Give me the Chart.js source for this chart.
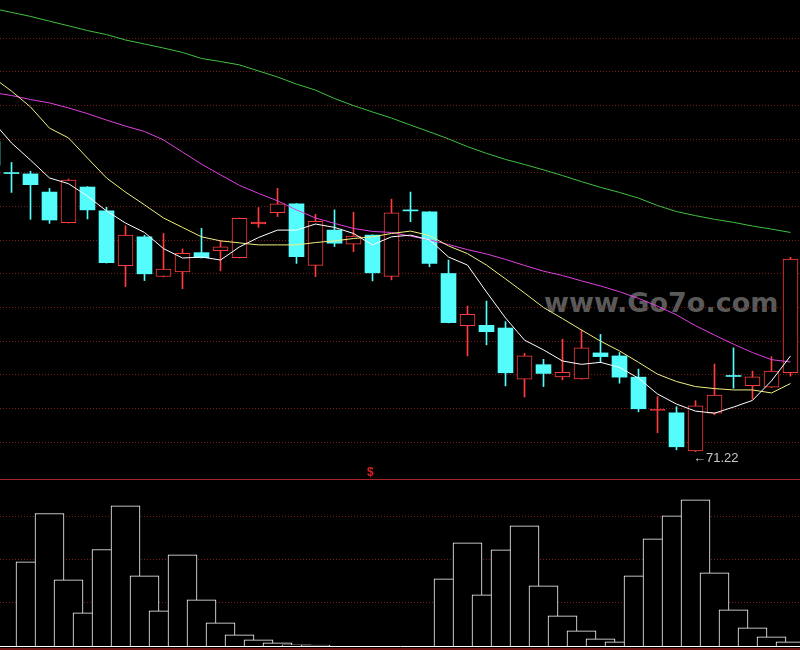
<!DOCTYPE html>
<html>
<head>
<meta charset="utf-8">
<script src="https://cdn.jsdelivr.net/npm/chart.js@4.4.1/dist/chart.umd.min.js"></script>
<style>
  html, body { margin:0; padding:0; background:#000; }
  #wrap { position:relative; width:800px; height:650px; background:#000; overflow:hidden; }
  #watermark { position:absolute; left:544px; top:289px; font:bold 27px/27px "DejaVu Sans", sans-serif; color:#5a5a5a; white-space:nowrap; z-index:0; }
  #frame { position:absolute; left:0; top:648px; width:800px; height:2px; background:#701414; z-index:0; }
  #sep { position:absolute; left:0; top:479px; width:800px; height:1px; background:#a82424; z-index:3; }
  #cTop { position:absolute; left:0; top:0; z-index:1; }
  #cBot { position:absolute; left:0; top:480px; z-index:1; }
  #lowLabel { position:absolute; left:693px; top:451px; font:13px/13px "Liberation Sans", Arial, sans-serif; color:#c8c8c8; z-index:2; white-space:nowrap; }
  #marker { position:absolute; left:367px; top:466px; font:bold 12px/12px "Liberation Sans", Arial, sans-serif; color:#d82020; z-index:2; }
</style>
</head>
<body>
<div id="wrap">
  <div id="watermark">www.Go7o.com</div>
  <div id="frame"></div>
  <canvas id="cTop" width="800" height="481"></canvas>
  <canvas id="cBot" width="800" height="169"></canvas>
  <div id="sep"></div>
  <div id="lowLabel"></div>
  <div id="marker">$</div>
</div>
<script>
// ---------------- data ----------------
const days = [0,1,2,3,4,5,6,7,8,9,10,11,12,13,14,15,16,17,18,19,20,21,22,23,24,25,26,27,28,29,30,31,32,33,34,35,36,37,38,39,40,41,42];

const open  = [80.43,79.49,79.47,78.93,78.02,79.08,78.37,76.74,77.60,76.42,76.56,77.13,77.19,76.98,77.98,78.32,78.58,76.75,77.80,77.38,77.65,76.42,78.38,78.34,76.51,74.96,74.97,74.89,73.37,73.80,73.44,73.38,74.15,74.06,73.43,72.44,72.37,71.24,72.36,73.46,73.18,73.13,73.56];
const high  = [80.51,79.81,79.55,79.04,79.32,79.09,78.48,77.93,77.65,77.70,77.24,77.85,77.48,78.16,78.47,79.04,78.59,78.27,78.40,78.33,77.66,78.72,78.93,78.35,76.91,75.54,75.69,75.08,74.14,73.96,74.56,74.83,74.70,74.16,73.67,72.85,72.55,72.73,73.82,74.30,73.61,74.04,76.99];
const low   = [79.65,78.92,78.12,78.00,78.01,78.13,76.82,76.12,76.30,76.41,76.06,76.97,76.59,76.97,77.88,78.20,76.81,76.42,77.31,77.16,76.29,76.32,78.05,76.71,75.04,74.06,74.39,73.17,72.84,73.15,73.35,73.37,73.86,73.25,72.40,71.78,71.27,71.22,72.31,73.10,72.78,73.12,73.46];
const close = [79.73,79.48,79.15,78.10,79.29,78.40,76.83,77.65,76.50,76.64,77.11,76.98,77.30,78.15,78.04,78.58,77.01,78.06,77.41,77.62,76.53,78.31,78.37,76.81,75.05,75.30,74.78,73.56,74.06,73.54,73.57,74.30,74.04,73.43,72.49,72.47,71.36,72.58,72.90,73.45,73.44,73.61,76.94];

const ma5  = [81.04,80.39,79.88,79.35,79.18,78.81,78.37,78.01,77.73,77.25,76.97,77.00,76.91,77.30,77.58,77.80,77.80,77.98,77.88,77.70,77.36,77.60,77.65,77.51,77.00,76.76,75.96,75.19,74.53,74.24,73.91,73.81,73.87,73.72,73.40,72.93,72.63,72.42,72.36,72.54,72.74,73.32,74.06];
const ma10 = [82.35,81.93,81.46,80.83,80.54,79.94,79.35,78.93,78.55,78.16,77.88,77.60,77.48,77.42,77.36,77.36,77.36,77.43,77.48,77.55,77.60,77.70,77.77,77.64,77.33,77.10,76.76,76.35,75.93,75.50,75.17,74.83,74.50,74.21,73.87,73.52,73.30,73.15,73.09,73.05,73.05,72.96,73.24];
const ma20 = [81.89,81.80,81.68,81.58,81.43,81.26,81.07,80.89,80.73,80.48,80.12,79.76,79.44,79.13,78.89,78.67,78.40,78.16,78.00,77.85,77.76,77.73,77.62,77.51,77.37,77.22,77.09,76.93,76.75,76.58,76.45,76.29,76.14,75.97,75.77,75.54,75.28,74.96,74.68,74.41,74.16,73.95,73.88];
const ma60 = [84.39,84.27,84.15,84.01,83.87,83.73,83.61,83.45,83.33,83.21,83.08,82.90,82.81,82.71,82.53,82.35,82.14,81.96,81.71,81.50,81.31,81.13,80.92,80.72,80.51,80.28,80.08,79.90,79.75,79.59,79.42,79.24,79.07,78.92,78.75,78.53,78.35,78.23,78.12,78.03,77.92,77.83,77.73];

const indicator = [0,0,1958,3081,1540,772,2244,3260,1633,819,2121,1074,540,260,144,74,28,23,0,0,0,0,0,0,1563,2400,1191,2237,2795,1400,702,353,167,98,1633,2493,3028,3400,1702,842,423,214,98];

const priceGrid = [71.5,72.5,73.5,74.5,75.5,76.5,77.5,78.5,79.5,80.5,81.5,82.5,83.5];
const indicatorGrid = [1000,2000,3000];

// ---------------- styles ----------------
const RED = '#ff3c3c', CYAN = '#54fcfc', GRID = '#7a1c1c';
const X_MIN = 0.39474, X_MAX = 42.5;
const P_MIN = 70.403, P_MAX = 84.638;
const I_MAX = 3860;

document.getElementById('lowLabel').textContent = '\u2190' + Math.min(...low).toFixed(2);

const isUp = i => close[i] > open[i];
const thin = i => Math.abs(close[i] - open[i]) < 0.07;

function xAxis(showBorder, borderColor) {
  return {
    type: 'linear', min: X_MIN, max: X_MAX, offset: false,
    grid: { display: false, drawTicks: false },
    ticks: { display: false },
    border: { display: showBorder, color: borderColor, width: 1 },
    afterFit: s => { s.height = 0; }
  };
}
function yAxis(min, max, gridVals) {
  return {
    type: 'linear', min, max,
    afterBuildTicks: s => { s.ticks = gridVals.map(v => ({ value: v })); },
    ticks: { display: false },
    grid: { color: GRID, lineWidth: 1, drawTicks: false },
    border: { display: false, dash: [1, 2] },
    afterFit: s => { s.width = 0; }
  };
}
const lineDs = (vals, color) => ({
  type: 'line', order: 0,
  data: days.map((d, i) => ({ x: d, y: vals[i] })),
  borderColor: color, borderWidth: 1, pointRadius: 0, tension: 0, fill: false
});

new Chart(document.getElementById('cTop'), {
  type: 'bar',
  data: {
    datasets: [
      lineDs(ma5, '#ffffff'),
      lineDs(ma10, '#f0f080'),
      lineDs(ma20, '#e040e0'),
      lineDs(ma60, '#40c040'),
      {
        type: 'bar', order: 1, grouped: false,
        data: days.map((d, i) => ({ x: d, y: [Math.min(open[i], close[i]), Math.max(open[i], close[i])] })),
        barThickness: 15, minBarLength: 1, borderSkipped: false,
        backgroundColor: c => isUp(c.dataIndex) ? (thin(c.dataIndex) ? RED : '#000') : CYAN,
        borderColor: c => isUp(c.dataIndex) ? RED : CYAN,
        borderWidth: c => isUp(c.dataIndex) ? 1 : 0
      },
      {
        type: 'bar', order: 2, grouped: false,
        data: days.map((d, i) => ({ x: d, y: [low[i], high[i]] })),
        barThickness: 1, borderWidth: 0,
        backgroundColor: c => isUp(c.dataIndex) ? RED : CYAN
      }
    ]
  },
  options: {
    responsive: false, devicePixelRatio: 1, animation: false, events: [],
    layout: { padding: { left: 0, right: 0, top: 0, bottom: 2 } },
    plugins: { legend: { display: false }, tooltip: { enabled: false } },
    scales: { x: xAxis(false, '#000'), y: yAxis(P_MIN, P_MAX, priceGrid) }
  }
});

new Chart(document.getElementById('cBot'), {
  type: 'bar',
  data: {
    datasets: [{
      data: days.map((d, i) => ({ x: d, y: indicator[i] })),
      barThickness: 29, backgroundColor: '#000', borderColor: '#ffffff',
      borderWidth: 1, borderSkipped: 'start'
    }]
  },
  options: {
    responsive: false, devicePixelRatio: 1, animation: false, events: [],
    layout: { padding: { left: 0, right: 0, top: 0, bottom: 3 } },
    plugins: { legend: { display: false }, tooltip: { enabled: false } },
    scales: { x: xAxis(true, '#ffffff'), y: yAxis(0, I_MAX, indicatorGrid) }
  }
});
</script>
</body>
</html>
